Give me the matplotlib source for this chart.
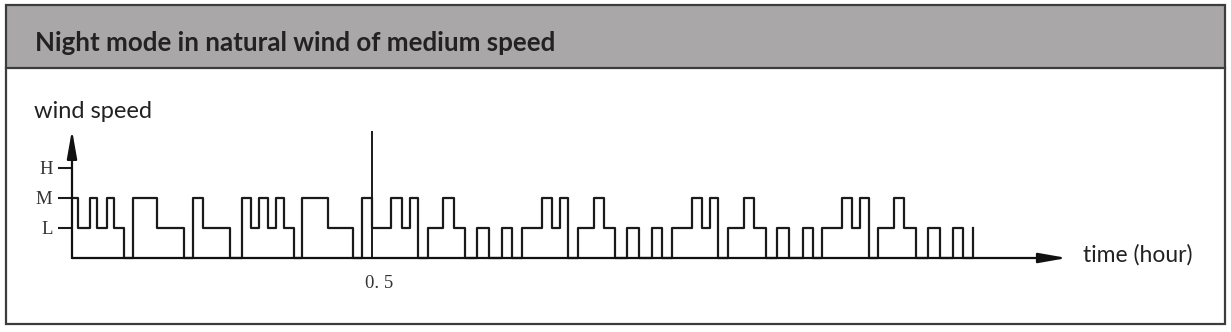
import matplotlib
matplotlib.use("Agg")
import matplotlib.pyplot as plt
from matplotlib.patches import Rectangle

# wind speed levels
levels_names = ["L", "M", "H"]
level_values = [1, 2, 3]

# switch times (minutes) and the speed level that starts at each time (0 = off)
t_min = [0, 0.6, 1.8, 2.5, 3.5, 4.2, 5.2, 6.1, 8.5, 11.2, 12.1, 13.1, 15.8,
         17.0, 17.9, 18.7, 19.6, 20.4, 21.2, 22.2, 23.0, 25.6, 28.1, 29.0,
         30.0, 31.9, 33.0, 33.8, 34.6, 35.6, 37.1, 38.2, 39.3, 40.5, 41.7, 43.0, 44.0,
         45.0, 47.0, 48.0, 48.8, 49.6, 50.6, 52.2, 53.2, 54.3, 55.5, 56.7, 58.0, 59.0,
         60.0, 62.0, 63.0, 63.8, 64.6, 65.6, 67.2, 68.2, 69.4, 70.5, 71.7, 73.1, 74.1,
         75.0, 77.0, 78.0, 78.8, 79.7, 80.6, 82.2, 83.2, 84.4, 85.6, 86.8, 88.1, 89.1,
         90.1]
speed = [2, 1, 2, 1, 2, 1, 0, 2, 1, 0, 2, 1, 0,
         2, 1, 2, 1, 2, 1, 0, 2, 1, 0, 2,
         1, 2, 1, 2, 0, 1, 2, 1, 0, 1, 0, 1, 0,
         1, 2, 1, 2, 0, 1, 2, 1, 0, 1, 0, 1, 0,
         1, 2, 1, 2, 0, 1, 2, 1, 0, 1, 0, 1, 0,
         1, 2, 1, 2, 0, 1, 2, 1, 0, 1, 0, 1, 0,
         1]

mark_hour = 0.5
mark_label = "0. 5"
mark_top = 4.23

t_hour = [t / 60 for t in t_min]

W, H = 1231, 332
fig = plt.figure(figsize=(W / 100, H / 100), dpi=100)

# frame and title band (pixel coords)
bg = fig.add_axes([0, 0, 1, 1])
bg.set_xlim(0, W)
bg.set_ylim(H, 0)
bg.axis("off")
bg.add_patch(Rectangle((6, 5), 1219, 63, facecolor="#a9a7a7", edgecolor="none"))
bg.add_patch(Rectangle((6, 5), 1219, 319, facecolor="none", edgecolor="#3c3c3c", lw=1.6))
bg.plot([6, 1225], [68, 68], color="#3c3c3c", lw=1.6)
bg.text(35, 43, "Night mode in natural wind of medium speed", fontsize=18.6,
        fontweight="bold", family="Lato", color="#222222", va="center", ha="left")
bg.text(34, 111, "wind speed", fontsize=17, family="Lato", color="#222222",
        va="center", ha="left")
bg.text(1083, 255, "time (hour)", fontsize=16.5, family="Lato", color="#222222",
        va="center", ha="left")

# chart area
x0, x1 = 72, 1067
y0, y1 = 258, 128
ax = fig.add_axes([x0 / W, (H - y0) / H, (x1 - x0) / W, (y0 - y1) / H])
ax.set_xlim(0, (x1 - x0) / 600)
ax.set_ylim(0, (y0 - y1) / 30)
ax.patch.set_alpha(0)
for s in ax.spines.values():
    s.set_visible(False)

ax.step(t_hour, speed, where="post", color="#1a1a1a", lw=1.6, clip_on=False)
ax.vlines(mark_hour, 0, mark_top, color="#1a1a1a", lw=1.4)

arrow = dict(arrowstyle="-|>,head_length=1.7,head_width=0.3", color="#111111",
             lw=1.6, shrinkA=0, shrinkB=0, mutation_scale=10)
ax.annotate("", xy=(ax.get_xlim()[1], 0), xytext=(0, 0), arrowprops=arrow,
            annotation_clip=False)
ax.annotate("", xy=(0, 4.27), xytext=(0, 0), arrowprops=arrow,
            annotation_clip=False)

ax.set_yticks(level_values, levels_names, family="Liberation Serif", fontsize=13.5,
              color="#333333")
ax.tick_params(axis="y", length=10, width=1.5, pad=4, color="#1a1a1a")
ax.set_xticks([])
ax.annotate(mark_label, xy=(mark_hour, 0), xytext=(-5, -18), textcoords="offset points",
            ha="left", va="center", family="Liberation Serif", fontsize=13.5,
            color="#333333")

fig.savefig("out.png", dpi=100)
